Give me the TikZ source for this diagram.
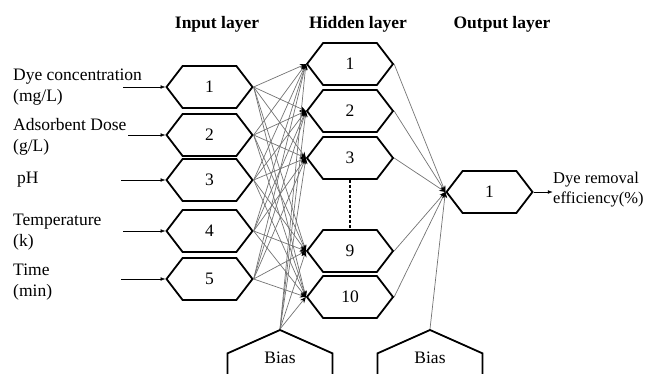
\documentclass[tikz,border=0pt]{standalone}
\usepackage{fontspec}
\setmainfont{Liberation Serif}
\usetikzlibrary{arrows.meta,shapes.symbols}

\tikzset{
  hexa/.style={signal, signal to=east and west, signal pointer angle=105, draw, line width=1.8pt,
    minimum width=86pt, minimum height=42pt, inner sep=0pt, font=\fontsize{17.5}{20}\selectfont},
  biasbox/.style={signal, signal to=north, signal from=nothing, signal pointer angle=132, draw,
    line width=1.8pt, minimum width=105pt, minimum height=48pt, inner sep=0pt},
  wire/.style={black!55, line width=0.7pt, -{Stealth[black, length=6pt, width=5pt]}},
  lab/.style={anchor=west, align=left, inner sep=0pt, font=\fontsize{17.5}{21}\selectfont},
  head/.style={font=\fontsize{17.5}{20}\selectfont\bfseries},
}

\begin{document}
\begin{tikzpicture}[>=Latex, x=1pt, y=-1pt]
  \clip (0,0) rectangle (649,374);
  \node[head] (tin) at (217,24) {Input layer};
  \node[head] (thid) at (358,24) {Hidden layer};
  \node[head] (tout) at (502,24) {Output layer};
  \foreach \n/\y in {1/87,2/135,3/180,4/231,5/279}
    \node[hexa] (i\n) at (209.5,\y) {\n};
  \foreach \n/\y in {1/64,2/111,3/158,9/251,10/297}
    \node[hexa] (h\n) at (350,\y) {\n};
  \node[hexa] (o1) at (489.5,192) {1};
  \node[biasbox, anchor=north, label={[anchor=center, yshift=-29pt, font=\fontsize{17.5}{20}\selectfont]north:Bias}] (b1) at (280,329) {};
  \node[biasbox, anchor=north, label={[anchor=center, yshift=-29pt, font=\fontsize{17.5}{20}\selectfont]north:Bias}] (b2) at (430,329) {};
  \node[lab] (l1) at (13,87) {Dye concentration\\(mg/L)};
  \node[lab] (l2) at (13,137) {Adsorbent Dose\\(g/L)};
  \node[lab] (l3) at (17,180) {pH};
  \node[lab] (l4) at (13,232) {Temperature\\(k)};
  \node[lab] (l5) at (13,282) {Time\\(min)};
  \node[lab, font=\fontsize{16.5}{20}\selectfont] (lout) at (553,190) {Dye removal\\efficiency(\%)};
  \draw[->] ([xshift=-42pt]i1.west) -- (i1.west);
  \draw[->] ([xshift=-37pt]i2.west) -- (i2.west);
  \draw[->] ([xshift=-44pt]i3.west) -- (i3.west);
  \draw[->] ([xshift=-42pt]i4.west) -- (i4.west);
  \draw[->] ([xshift=-44pt]i5.west) -- (i5.west);
  \draw[->] (o1.east) -- ++(19,0);
  \foreach \a in {1,...,5}
    \foreach \b in {1,2,3,9,10}
      \draw[wire] (i\a.east) -- (h\b.west);
  \foreach \b in {1,2,3,9,10} {
    \draw[wire] (b1.north) -- (h\b.west);
    \draw[wire] (h\b.east) -- (o1.west);
  }
  \draw[wire] (b2.north) -- (o1.west);
  \draw[line width=2pt, dash pattern=on 3pt off 2pt] (h3.south) -- (h9.north);
\end{tikzpicture}
\end{document}
